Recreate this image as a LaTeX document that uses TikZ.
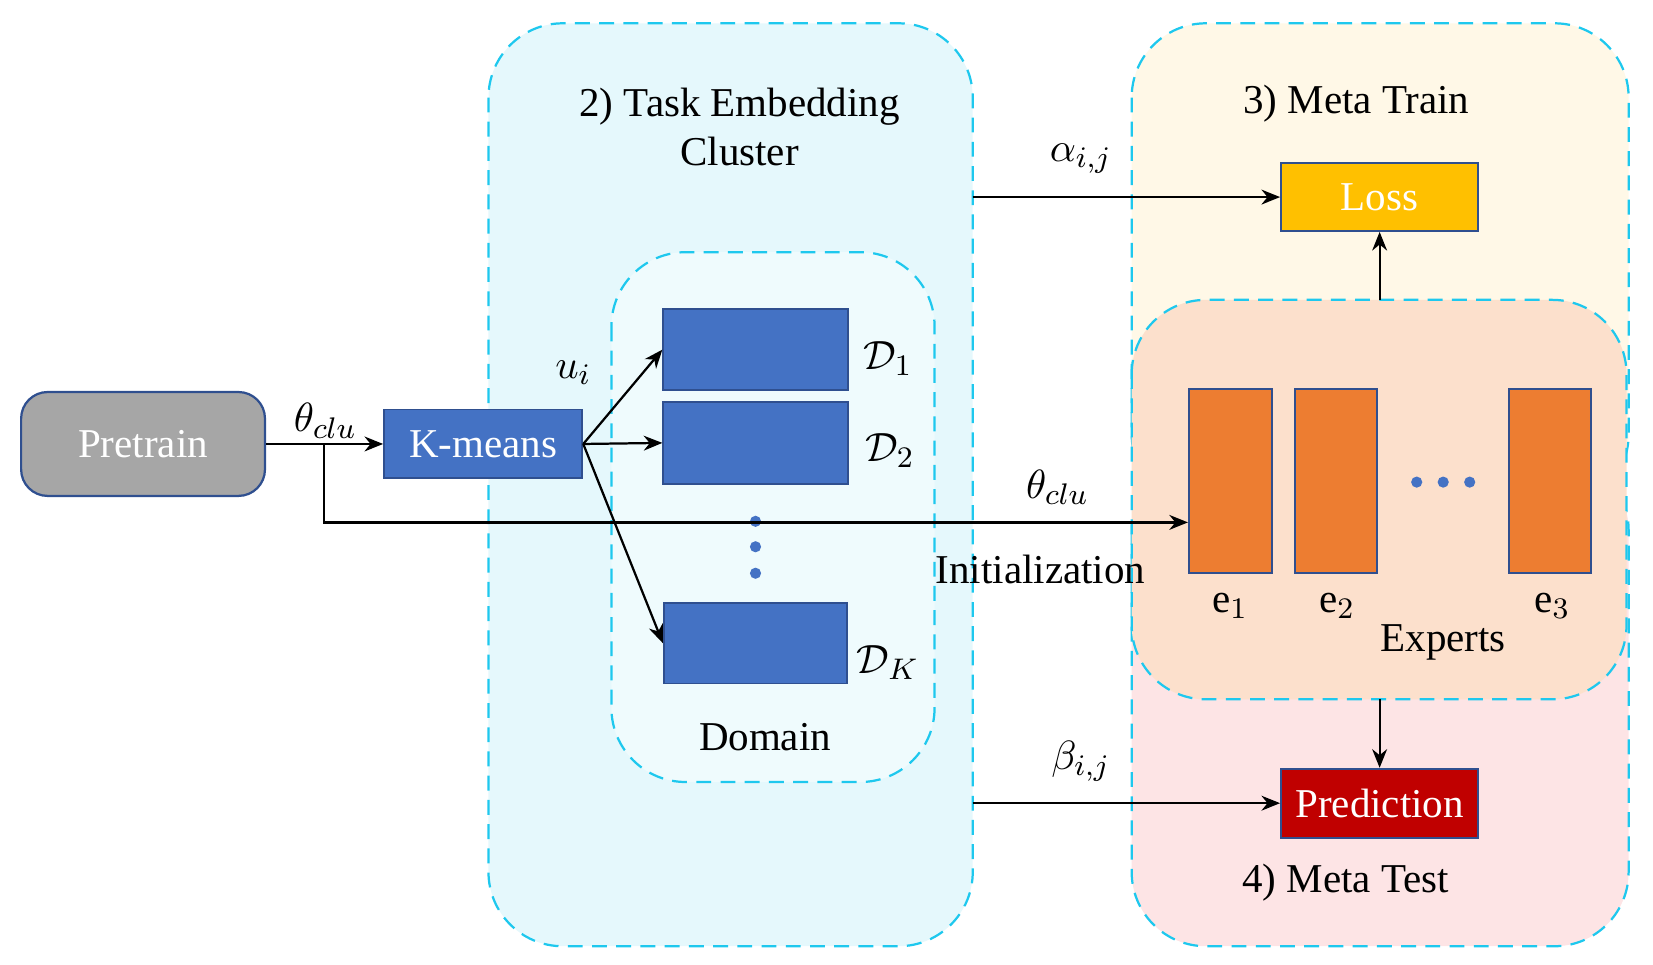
\documentclass[tikz,border=0pt]{standalone}
\usepackage{fontspec}
\setmainfont{Liberation Serif}
\usetikzlibrary{arrows.meta}
\definecolor{cy}{HTML}{1EC8EE}
\definecolor{cyf}{HTML}{E5F8FC}
\definecolor{yf}{HTML}{FFF8E7}
\definecolor{pf}{HTML}{FDE4E5}
\definecolor{of}{HTML}{FCE0CC}
\definecolor{bl}{HTML}{4472C4}
\definecolor{bd}{HTML}{2F4F8F}
\definecolor{org}{HTML}{ED7D31}
\begin{document}
\begin{tikzpicture}[x=0.01cm,y=-0.01cm,
  grp/.style={draw=cy,dashed,line width=0.6pt,dash pattern=on 4pt off 2.5pt,rounded corners=0.7cm},
  blk/.style={fill=bl,draw=bd,line width=0.5pt},
  ex/.style={fill=org,draw=bd,line width=0.5pt},
  lab/.style={font=\fontsize{11}{13}\selectfont,align=center},
  arr/.style={-{Stealth[length=5pt,width=4pt]},line width=0.6pt},
  dot/.style={circle,fill=bl,inner sep=0pt,minimum size=3pt}]
\useasboundingbox (0,0) rectangle (1560,910);
% groups
\draw[grp,fill=cyf] (461,22) rectangle (918,893);
\draw[grp,fill=yf] (1068,22) rectangle (1537,480);
\draw[grp,fill=pf] (1068,430) rectangle (1537,893);
\draw[grp,fill=of] (1068,283) rectangle (1535,660);
\draw[grp,fill=cyf!60!white] (577,238) rectangle (882,738);
\node[lab] (t2) at (698,120) {2) Task Embedding\\Cluster};
\node[lab] (t3) at (1280,98) {3) Meta Train};
\node[lab] (t4) at (1270,833) {4) Meta Test};
\node[lab] (dom) at (722,696) {Domain};
% nodes
\node[draw=bd,fill=black!35,rounded corners=0.25cm,minimum width=2.3cm,minimum height=0.98cm,text=white,lab,line width=0.6pt] (pre) at (135,419) {Pretrain};
\node[blk,minimum width=1.87cm,minimum height=0.65cm,text=white,lab] (km) at (456,419) {K-means};
\node[blk,minimum width=1.74cm,minimum height=0.76cm] (d1) at (713,330) {};
\node[blk,minimum width=1.74cm,minimum height=0.77cm] (d2) at (713,418) {};
\node[blk,minimum width=1.73cm,minimum height=0.76cm] (dk) at (713,607) {};
\node[lab] (l1) at (838,338) {$\mathcal{D}_1$};
\node[lab] (l2) at (840,425) {$\mathcal{D}_2$};
\node[lab] (lk) at (838,625) {$\mathcal{D}_K$};
\node[dot] (p1) at (713,492) {};
\node[dot] (p2) at (713,516) {};
\node[dot] (p3) at (713,541) {};
\node[lab] (ui) at (541,352) {$u_i$};
\node[lab] (th1) at (307,397) {$\theta_{clu}$};
\node[ex,minimum width=0.78cm,minimum height=1.73cm] (e1) at (1161,454) {};
\node[ex,minimum width=0.77cm,minimum height=1.73cm] (e2) at (1261,454) {};
\node[ex,minimum width=0.77cm,minimum height=1.73cm] (e3) at (1463,454) {};
\node[dot] (q1) at (1337,455) {};
\node[dot] (q2) at (1362,455) {};
\node[dot] (q3) at (1387,455) {};
\node[lab] (le1) at (1161,572) {e$_1$};
\node[lab] (le2) at (1262,572) {e$_2$};
\node[lab] (le3) at (1465,572) {e$_3$};
\node[lab] (exl) at (1362,606) {Experts};
\node[fill=yellow!75!orange,fill={rgb,255:red,255;green,192;blue,0},draw=bd,minimum width=1.86cm,minimum height=0.64cm,text=white,lab,line width=0.5pt] (loss) at (1302,186) {Loss};
\node[fill={rgb,255:red,192;green,0;blue,0},draw=bd,minimum width=1.86cm,minimum height=0.65cm,text=white,lab,line width=0.5pt] (pred) at (1302,758) {Prediction};
\node[lab] (al) at (1020,150) {$\alpha_{i,j}$};
\node[lab] (be) at (1020,718) {$\beta_{i,j}$};
\node[lab] (th2) at (998,460) {$\theta_{clu}$};
\node[lab] (ini) at (982,537) {Initialization};
\coordinate (br) at (306,419);
\coordinate (a0) at (918,186);
\coordinate (b0) at (918,758);
\coordinate (et) at (1302,283);
\coordinate (eb) at (1302,660);
% connectors
\draw[arr] (pre.east) -- (km.west);
\draw[arr] (br) -- (306,493) -- (e1.west |- 0,493);
\draw[arr] (km.east) -- (d1.west);
\draw[arr] (km.east) -- (d2.west);
\draw[arr] (km.east) -- (dk.west);
\draw[arr] (a0) -- (loss.west);
\draw[arr] (b0) -- (pred.west);
\draw[arr] (et) -- (loss.south);
\draw[arr] (eb) -- (pred.north);
\end{tikzpicture}
\end{document}
